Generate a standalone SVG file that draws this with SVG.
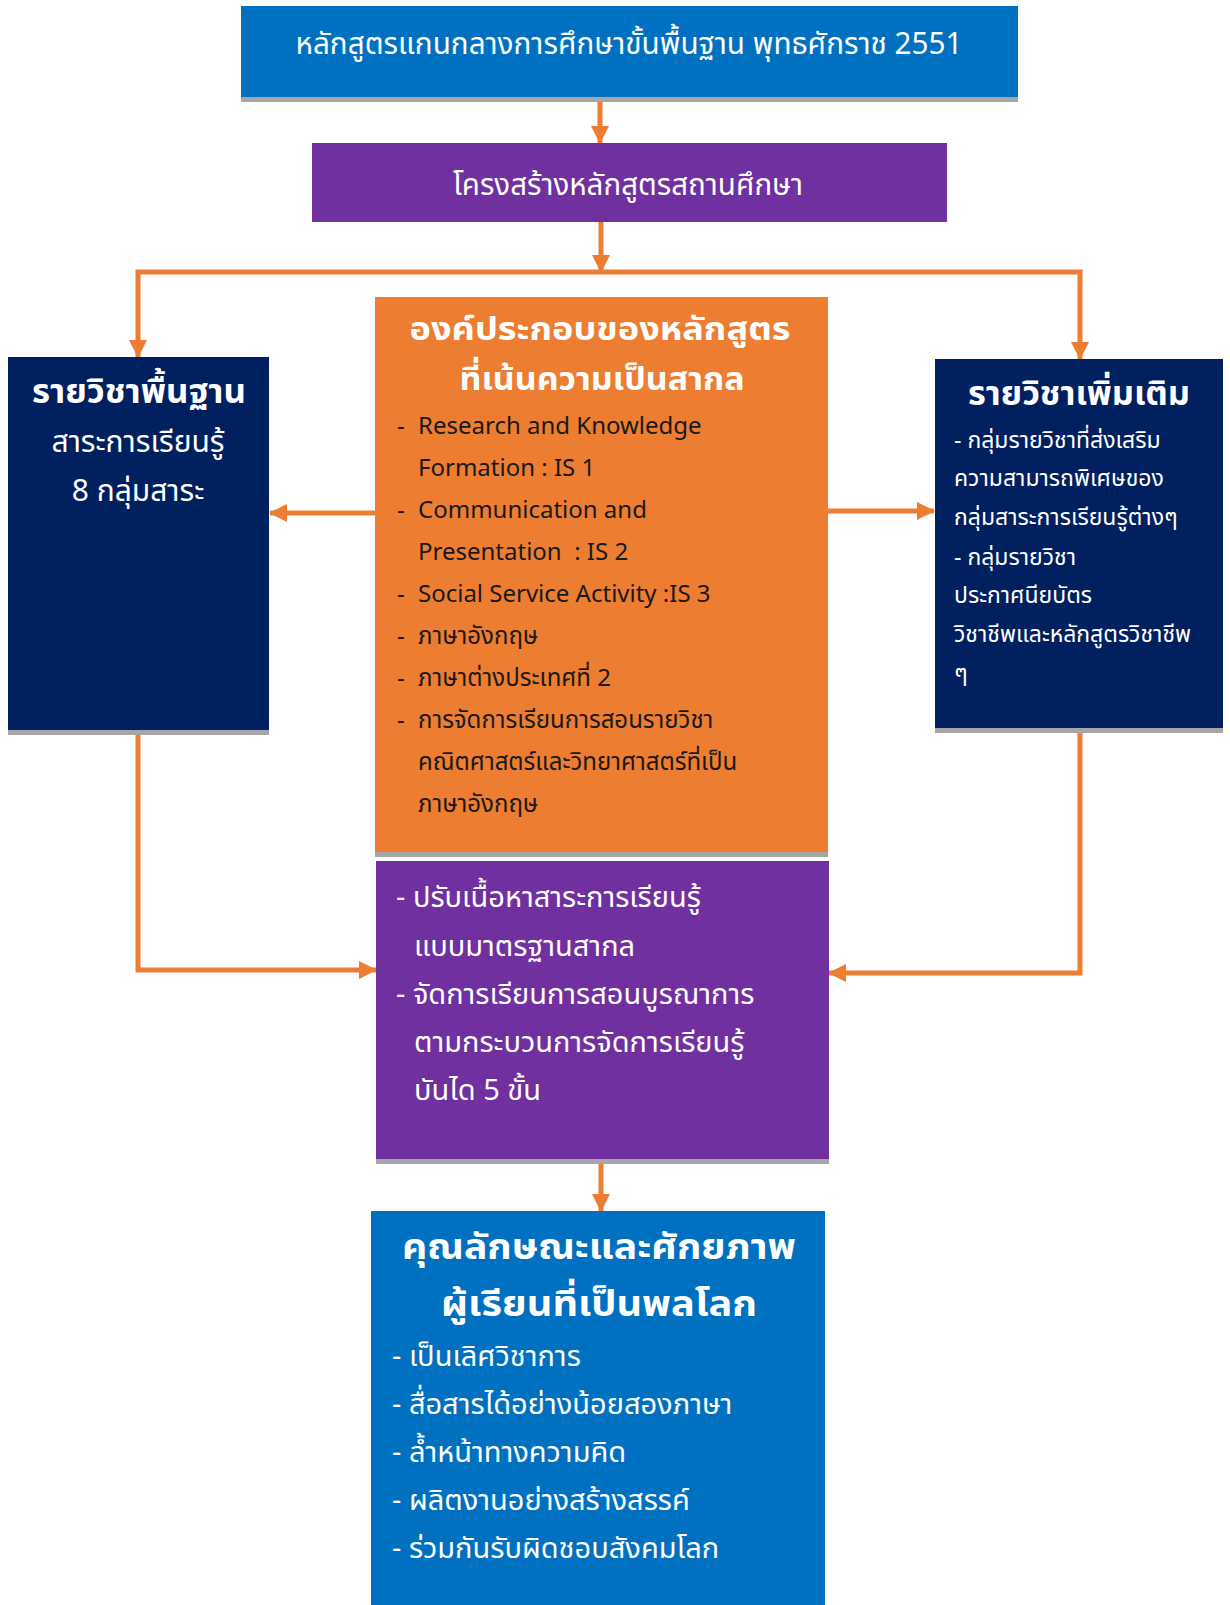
<svg xmlns="http://www.w3.org/2000/svg" width="1230" height="1605" viewBox="0 0 1230 1605">
<style>
.t{font-family:'Noto Sans Thai','Noto Sans','DejaVu Sans',sans-serif;fill:#fff}
.h{font-weight:bold}
.d{fill:#1a1a1a}
.sh{fill:#A6A6A6}
.c{fill:none;stroke:#ED7D31;stroke-width:5}
</style>
<defs>
<marker id="ah" viewBox="0 0 18 18" refX="17" refY="9" markerWidth="18" markerHeight="18" markerUnits="userSpaceOnUse" orient="auto">
<path d="M0,0 L18,9 L0,18 z" fill="#ED7D31"/>
</marker>
</defs>
<rect width="1230" height="1605" fill="#fff"/>
<g id="connectors">
<path class="c" d="M600,102 V143" marker-end="url(#ah)"/>
<path class="c" d="M601,222 V272" marker-end="url(#ah)"/>
<path class="c" d="M601,272 H138 V357" marker-end="url(#ah)"/>
<path class="c" d="M601,272 H1080 V359" marker-end="url(#ah)"/>
<path class="c" d="M375,513 H270" marker-end="url(#ah)"/>
<path class="c" d="M828,511 H934" marker-end="url(#ah)"/>
<path class="c" d="M138,735 V970 H376" marker-end="url(#ah)"/>
<path class="c" d="M1080,733 V973 H829" marker-end="url(#ah)"/>
<path class="c" d="M601,1164 V1211" marker-end="url(#ah)"/>
</g>
<g id="top">
<rect class="sh" x="241" y="92" width="777" height="10"/>
<rect x="241" y="6" width="777" height="91" fill="#0070C0"/>
<text class="t" x="629" y="54" font-size="30" text-anchor="middle" textLength="667" lengthAdjust="spacingAndGlyphs">หลักสูตรแกนกลางการศึกษาขั้นพื้นฐาน พุทธศักราช 2551</text>
</g>
<g id="structure">
<rect x="312" y="143" width="635" height="79" fill="#7030A0"/>
<text class="t" x="628" y="195" font-size="30" text-anchor="middle" textLength="350" lengthAdjust="spacingAndGlyphs">โครงสร้างหลักสูตรสถานศึกษา</text>
</g>
<g id="basic">
<rect class="sh" x="8" y="725" width="261" height="10"/>
<rect x="8" y="357" width="261" height="373" fill="#002060"/>
<text class="t h" x="139" y="403" font-size="34" text-anchor="middle" textLength="214" lengthAdjust="spacingAndGlyphs">รายวิชาพื้นฐาน</text>
<text class="t" x="138" y="452" font-size="30" text-anchor="middle">สาระการเรียนรู้</text>
<text class="t" x="138" y="501" font-size="30" text-anchor="middle">8 กลุ่มสาระ</text>
</g>
<g id="components">
<rect class="sh" x="375" y="847" width="453" height="10"/>
<rect x="375" y="297" width="453" height="555" fill="#ED7D31"/>
<text class="t h" x="600" y="340" font-size="32" text-anchor="middle" textLength="381" lengthAdjust="spacingAndGlyphs">องค์ประกอบของหลักสูตร</text>
<text class="t h" x="602" y="390" font-size="32" text-anchor="middle" textLength="285" lengthAdjust="spacingAndGlyphs">ที่เน้นความเป็นสากล</text>
<g class="t d" font-size="24">
<text x="397" y="434">-</text><text x="418" y="434">Research and Knowledge</text>
<text x="418" y="476">Formation : IS 1</text>
<text x="397" y="518">-</text><text x="418" y="518">Communication and</text>
<text x="418" y="560">Presentation&#160; : IS 2</text>
<text x="397" y="602">-</text><text x="418" y="602">Social Service Activity :IS 3</text>
<text x="397" y="644">-</text><text x="418" y="644">ภาษาอังกฤษ</text>
<text x="397" y="686">-</text><text x="418" y="686">ภาษาต่างประเทศที่ 2</text>
<text x="397" y="728">-</text><text x="418" y="728">การจัดการเรียนการสอนรายวิชา</text>
<text x="418" y="770">คณิตศาสตร์และวิทยาศาสตร์ที่เป็น</text>
<text x="418" y="812">ภาษาอังกฤษ</text>
</g>
</g>
<g id="additional">
<rect class="sh" x="935" y="723" width="288" height="10"/>
<rect x="935" y="359" width="288" height="369" fill="#002060"/>
<text class="t h" x="1079" y="405" font-size="34" text-anchor="middle" textLength="222" lengthAdjust="spacingAndGlyphs">รายวิชาเพิ่มเติม</text>
<g class="t" font-size="23">
<text x="954" y="448">- กลุ่มรายวิชาที่ส่งเสริม</text>
<text x="954" y="486">ความสามารถพิเศษของ</text>
<text x="954" y="525">กลุ่มสาระการเรียนรู้ต่างๆ</text>
<text x="954" y="565">- กลุ่มรายวิชา</text>
<text x="954" y="603">ประกาศนียบัตร</text>
<text x="954" y="642">วิชาชีพและหลักสูตรวิชาชีพ</text>
<text x="954" y="681">ๆ</text>
</g>
</g>
<g id="approach">
<rect class="sh" x="376" y="1154" width="453" height="10"/>
<rect x="376" y="861" width="453" height="298" fill="#7030A0"/>
<g class="t" font-size="29">
<text x="396" y="907">- ปรับเนื้อหาสาระการเรียนรู้</text>
<text x="414" y="956">แบบมาตรฐานสากล</text>
<text x="396" y="1004">- จัดการเรียนการสอนบูรณาการ</text>
<text x="414" y="1052">ตามกระบวนการจัดการเรียนรู้</text>
<text x="414" y="1100">บันได 5 ขั้น</text>
</g>
</g>
<g id="outcome">
<rect x="371" y="1211" width="454" height="394" fill="#0070C0"/>
<text class="t h" x="599" y="1259" font-size="36" text-anchor="middle" textLength="394" lengthAdjust="spacingAndGlyphs">คุณลักษณะและศักยภาพ</text>
<text class="t h" x="599" y="1316" font-size="36" text-anchor="middle" textLength="316" lengthAdjust="spacingAndGlyphs">ผู้เรียนที่เป็นพลโลก</text>
<g class="t" font-size="29">
<text x="392" y="1366">- เป็นเลิศวิชาการ</text>
<text x="392" y="1414">- สื่อสารได้อย่างน้อยสองภาษา</text>
<text x="392" y="1462">- ล้ำหน้าทางความคิด</text>
<text x="392" y="1510">- ผลิตงานอย่างสร้างสรรค์</text>
<text x="392" y="1558">- ร่วมกันรับผิดชอบสังคมโลก</text>
</g>
</g>
</svg>
